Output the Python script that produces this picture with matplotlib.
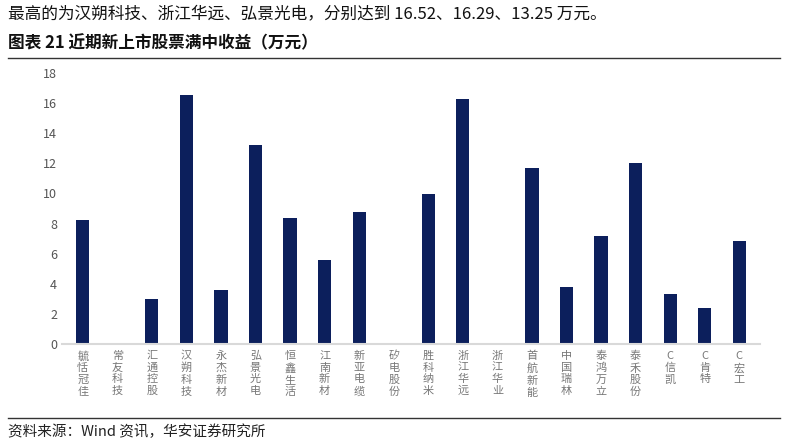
import matplotlib
matplotlib.use("Agg")
import matplotlib.pyplot as plt

plt.rcParams['font.family'] = ['Noto Sans CJK SC', 'DejaVu Sans']

categories = ["毓恬冠佳","常友科技","汇通控股","汉朔科技","永杰新材","弘景光电","恒鑫生活","江南新材","新亚电缆","矽电股份",
              "胜科纳米","浙江华远","浙江华业","首航新能","中国瑞林","泰鸿万立","泰禾股份","C信凯","C肯特","C宏工"]
values = [8.25,0,3.0,16.52,3.6,13.25,8.35,5.6,8.8,0,9.95,16.29,0,11.7,3.8,7.2,12.05,3.35,2.4,6.85]
yticks = [0,2,4,6,8,10,12,14,16,18]

W,H = 787,444
fig = plt.figure(figsize=(W/100,H/100), dpi=100)
ax = fig.add_axes([62/W, 1-344/H, (760-62)/W, (344-73)/H])
x = range(len(categories))
ax.bar(x, values, width=0.38, color='#0c1f5c')
ax.set_xlim(-0.6, len(categories)-0.4)
ax.set_ylim(0,18)
ax.set_yticks(yticks)
ax.tick_params(axis='y', labelsize=9, colors='#555555', length=0)
ax.set_xticks(list(x))
ax.set_xticklabels(["\n".join(c) for c in categories], fontsize=8, color='#777777', linespacing=1.2, va='top')
ax.tick_params(axis='x', length=0, pad=5)
for s in ['top','right','left']:
    ax.spines[s].set_visible(False)
ax.spines['bottom'].set_color('#d9d9d9')
ax.spines['bottom'].set_linewidth(1.5)

fig.text(8/W, 1-14/H, "最高的为汉朔科技、浙江华远、弘景光电，分别达到 16.52、16.29、13.25 万元。", fontsize=12, va='center', color='#111111')
fig.text(8/W, 1-43/H, "图表 21 近期新上市股票满中收益（万元）", fontsize=12, fontweight='bold', va='center', color='#111111')
fig.add_artist(plt.Line2D([8/W, 780/W], [1-58/H, 1-58/H], color='#333333', lw=1))
fig.add_artist(plt.Line2D([8/W, 780/W], [1-418/H, 1-418/H], color='#333333', lw=1))
fig.text(8/W, 1-432/H, "资料来源：Wind 资讯，华安证券研究所", fontsize=10.5, va='center', color='#222222')
fig.savefig("out.png", dpi=100)
